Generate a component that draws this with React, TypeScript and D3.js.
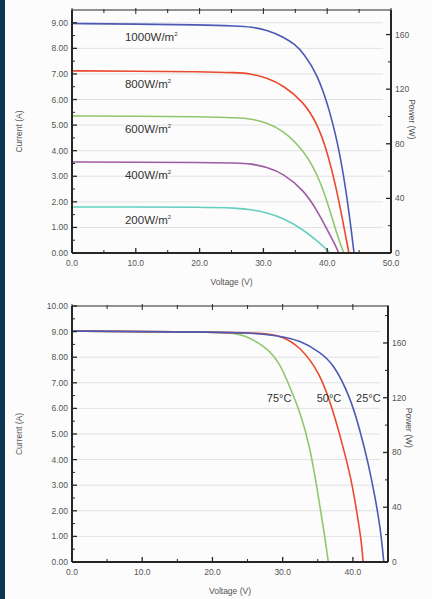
// @ts-nocheck
import * as d3 from "d3";

// ---- data: [voltage (V), current (A)] ----
const irr1000 = [[0, 8.97], [10, 8.95], [20, 8.92], [26, 8.87], [28, 8.84], [30.5, 8.72], [33.1, 8.45], [35, 8.15], [36.3, 7.8], [38.4, 7.02], [40.4, 5.59], [42.0, 3.9], [43.1, 2.2], [43.9, 0.64], [44.2, 0]];
const irr800 = [[0, 7.12], [10, 7.11], [20, 7.09], [26, 7.05], [28, 7.01], [30.5, 6.85], [33.1, 6.56], [36.3, 5.91], [38.4, 5.07], [39.95, 4.02], [41.5, 2.46], [42.6, 1.05], [43.4, 0]];
const irr600 = [[0, 5.36], [10, 5.35], [20, 5.33], [26, 5.29], [28, 5.25], [30.5, 5.1], [33.1, 4.8], [36.3, 4.02], [38.4, 3.11], [39.95, 2.07], [41.2, 1.0], [42.0, 0.4], [42.6, 0]];
const irr400 = [[0, 3.56], [10, 3.55], [20, 3.54], [26, 3.52], [28, 3.49], [30.5, 3.36], [33.1, 3.11], [36.3, 2.46], [38.4, 1.68], [40.4, 0.72], [41.3, 0.3], [41.8, 0]];
const irr200 = [[0, 1.8], [10, 1.8], [20, 1.79], [26, 1.76], [28, 1.7], [30.5, 1.58], [33.1, 1.37], [36.3, 0.9], [38.4, 0.48], [39.6, 0.22], [40.4, 0]];

const temp25 = [[0, 9.02], [10, 9.0], [20, 8.98], [25, 8.95], [28, 8.88], [30, 8.8], [32.5, 8.65], [35.3, 8.2], [37.2, 7.76], [39.6, 6.46], [41.0, 5.16], [42.2, 3.85], [43.15, 2.55], [43.96, 1.25], [44.4, 0]];
const temp50 = [[0, 9.02], [10, 9.0], [20, 8.98], [25, 8.95], [28, 8.92], [30.1, 8.8], [32.5, 8.4], [35.3, 7.4], [37.2, 5.9], [38.6, 4.5], [39.8, 3.2], [40.6, 1.9], [41.25, 0.73], [41.45, 0]];
const temp75 = [[0, 9.02], [10, 9.0], [20, 8.98], [23, 8.95], [24.4, 8.87], [27.7, 8.41], [29.6, 7.76], [31.0, 6.85], [32.5, 5.85], [33.9, 4.5], [35.1, 2.55], [36.0, 0.99], [36.5, 0]];

const irrLabels = ["1000W/m", "800W/m", "600W/m", "400W/m", "200W/m"];
const irrCurves = [irr1000, irr800, irr600, irr400, irr200];
const irrIsc = [8.97, 7.12, 5.36, 3.56, 1.8];
const irrColors = ["#4c5ab6", "#ea4a2e", "#8fc86c", "#9c5ca4", "#62cfc0"];

const tempLabels = ["75°C", "50°C", "25°C"];
const tempCurves = [temp75, temp50, temp25];
const tempLabelV = [29.5, 36.6, 42.2];
const tempColors = ["#8fc86c", "#ea4a2e", "#4c5ab6"];

const voltTicksTop = [0, 10, 20, 30, 40, 50];
const voltTicksBottom = [0, 10, 20, 30, 40];
const currentTicksTop = [0, 1, 2, 3, 4, 5, 6, 7, 8, 9];
const currentTicksBottom = [0, 1, 2, 3, 4, 5, 6, 7, 8, 9, 10];
const powerTicks = [0, 40, 80, 120, 160];

const font = "Liberation Sans, Arial, sans-serif";

function Panel({ top, bottom, left, right, vMax, iMax, pMax, voltTicks, currentTicks, powerTitleY, children }) {
    const x = d3.scaleLinear().domain([0, vMax]).range([left, right]);
    const y = d3.scaleLinear().domain([0, iMax]).range([bottom, top]);
    const yp = d3.scaleLinear().domain([0, pMax]).range([bottom, top]);

    const xMinor = d3.range(5, vMax + 0.01, 10);
    const yMinor = d3.range(0.5, iMax, 1);
    const pMinor = d3.range(20, pMax, 40);
    const fmt1 = d3.format(".1f");
    const fmt2 = d3.format(".2f");
    const ax = "#262626";

    return (
        <g>
            {/* grid */}
            {currentTicks.filter(d => d > 0 && d < iMax).map(d => (
                <line key={"g" + d} x1={left} x2={right - 8} y1={y(d)} y2={y(d)} stroke="#e2e2e2" strokeWidth={1} />
            ))}

            {children(x, y)}

            {/* frame */}
            <line x1={left} x2={right} y1={top} y2={top} stroke={ax} strokeWidth={1.2} />
            <line x1={left} x2={left} y1={top} y2={bottom} stroke={ax} strokeWidth={2} />
            <line x1={right} x2={right} y1={top} y2={bottom} stroke={ax} strokeWidth={2} />
            <line x1={left} x2={right} y1={bottom} y2={bottom} stroke={ax} strokeWidth={2} />

            {/* x ticks bottom & top */}
            {voltTicks.map(d => (
                <g key={"x" + d}>
                    <line x1={x(d)} x2={x(d)} y1={bottom} y2={bottom - 5} stroke={ax} strokeWidth={1.3} />
                    <line x1={x(d)} x2={x(d)} y1={top - 2} y2={top + 4} stroke={ax} strokeWidth={1} />
                    <text x={x(d)} y={bottom + 13} fontSize={8.5} textAnchor="middle" fill="#555" fontFamily={font}>{fmt1(d)}</text>
                </g>
            ))}
            {xMinor.map(d => (
                <g key={"xm" + d}>
                    <line x1={x(d)} x2={x(d)} y1={bottom} y2={bottom - 3} stroke={ax} strokeWidth={1} />
                    <line x1={x(d)} x2={x(d)} y1={top - 1} y2={top + 3} stroke={ax} strokeWidth={1} />
                </g>
            ))}

            {/* current axis */}
            {currentTicks.map(d => (
                <g key={"y" + d}>
                    <line x1={left} x2={left + 5} y1={y(d)} y2={y(d)} stroke={ax} strokeWidth={1.3} />
                    <text x={left - 4} y={y(d)} dy="0.35em" fontSize={8.5} textAnchor="end" fill="#555" fontFamily={font}>{fmt2(d)}</text>
                </g>
            ))}
            {yMinor.map(d => (
                <line key={"ym" + d} x1={left} x2={left + 3} y1={y(d)} y2={y(d)} stroke={ax} strokeWidth={1} />
            ))}

            {/* power axis */}
            {powerTicks.map(d => (
                <g key={"p" + d}>
                    <line x1={right} x2={right - 5} y1={yp(d)} y2={yp(d)} stroke={ax} strokeWidth={1.3} />
                    <text x={right + 4} y={yp(d)} dy="0.35em" fontSize={8.5} textAnchor="start" fill="#555" fontFamily={font}>{d}</text>
                </g>
            ))}
            {pMinor.map(d => (
                <line key={"pm" + d} x1={right} x2={right - 3} y1={yp(d)} y2={yp(d)} stroke={ax} strokeWidth={1} />
            ))}

            {/* titles */}
            <text transform={`translate(22,${(top + bottom) / 2}) rotate(-90)`} textAnchor="middle" fontSize={8.5} fill="#555" fontFamily={font}>Current (A)</text>
            <text transform={`translate(${right + 18},${yp(powerTitleY)}) rotate(90)`} textAnchor="middle" fontSize={8.5} fill="#555" fontFamily={font}>Power (W)</text>
            <text x={(left + right) / 2} y={bottom + 32} textAnchor="middle" fontSize={8.5} fill="#555" fontFamily={font}>Voltage (V)</text>
        </g>
    );
}

const App = () => {
    const line = (x, y) => d3.line().x(d => x(d[0])).y(d => y(d[1])).curve(d3.curveBasis);

    return (
        <>
            <style>{"body{margin:0}"}</style>
            <svg width={432} height={599} style={{ display: "block", background: "#fcfcfc" }}>
                <rect x={0} y={0} width={5} height={599} fill="#0e3552" />

                <Panel top={10} bottom={253} left={72} right={391} vMax={50} iMax={9.5} pMax={178} powerTitleY={98}
                    voltTicks={voltTicksTop} currentTicks={currentTicksTop}>
                    {(x, y) => (
                        <g>
                            {irrCurves.map((c, i) => (
                                <path key={i} d={line(x, y)(c)} fill="none" stroke={irrColors[i]} strokeWidth={1.6} />
                            ))}
                            {irrLabels.map((t, i) => (
                                <text key={t} x={x(8.3)} y={y(irrIsc[i]) + 17} fontSize={11.5} fill="#333" fontFamily={font}>
                                    {t}<tspan dy={-5} fontSize={6}>2</tspan>
                                </text>
                            ))}
                        </g>
                    )}
                </Panel>

                <Panel top={306} bottom={562} left={72} right={388} vMax={45} iMax={10} pMax={187} powerTitleY={98}
                    voltTicks={voltTicksBottom} currentTicks={currentTicksBottom}>
                    {(x, y) => (
                        <g>
                            {tempCurves.map((c, i) => (
                                <path key={i} d={line(x, y)(c)} fill="none" stroke={tempColors[i]} strokeWidth={1.6} />
                            ))}
                            {tempLabels.map((t, i) => (
                                <text key={t} x={x(tempLabelV[i])} y={y(6.4) + 4} fontSize={11} textAnchor="middle" fill="#333" fontFamily={font}>{t}</text>
                            ))}
                        </g>
                    )}
                </Panel>
            </svg>
        </>
    );
};

export default App;
